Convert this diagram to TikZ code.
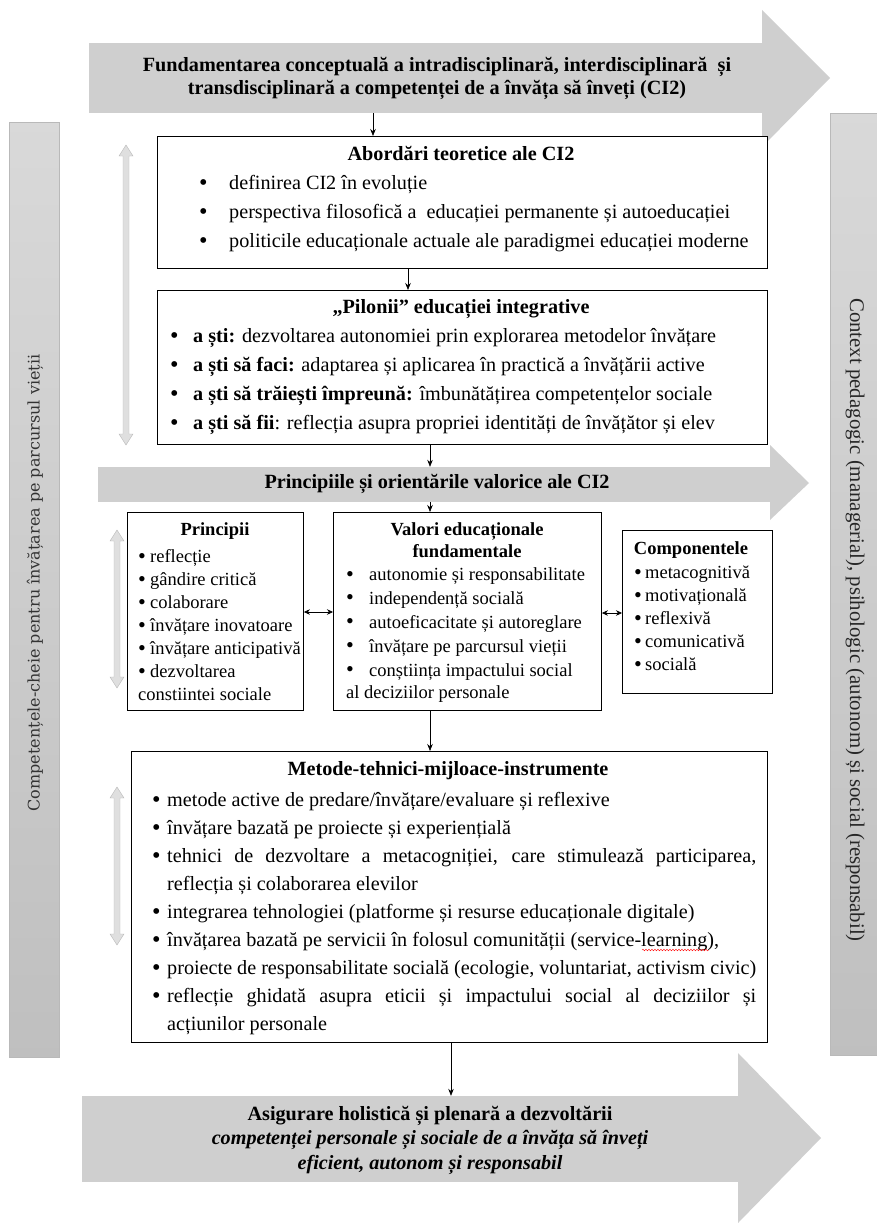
\documentclass[tikz,border=0pt]{standalone}
\usepackage{fontspec}
\setmainfont{Liberation Serif}
\newfontfamily\sidefont{DejaVu Serif}
\usetikzlibrary{arrows.meta,decorations.pathmorphing}

\newcommand{\bl}[1]{\rule{0pt}{19pt}\makebox[#1][l]{\raisebox{-0.8pt}{\scalebox{1.2}{\textbullet}}}}
\newcommand{\mitem}[1]{\noindent\hangindent=15pt\hangafter=1\bl{15pt}#1\par}

\tikzset{
  box/.style={draw, line width=0.9pt, fill=white, anchor=north west, inner sep=0pt},
  txt/.style={inner sep=0pt, anchor=north west, align=left, font=\fontsize{20.2}{29}\selectfont},
  small/.style={font=\fontsize{18.5}{23}\selectfont},
  ttl/.style={inner sep=0pt, anchor=base, font=\bfseries\fontsize{20.2}{23}\selectfont},
  bigarrow/.style={fill=gray!38, inner sep=0pt},
  sidebar/.style={draw=gray!55, top color=gray!30, bottom color=gray!50, anchor=north west, inner sep=0pt},
  conn/.style={-{Stealth[length=7pt, width=5.5pt]}, line width=0.6pt},
  dbl/.style={{Stealth[length=6pt, width=5.5pt]}-{Stealth[length=6pt, width=5.5pt]}, line width=0.6pt},
}

\begin{document}
\begin{tikzpicture}[x=1pt, y=-1pt]
  \useasboundingbox (0,0) rectangle (877,1223);

  % side bars
  \node[sidebar, minimum width=50, minimum height=935] (lbar) at (9,122) {};
  \node[sidebar, minimum width=52, minimum height=942] (rbar) at (830,113) {};
  \node[rotate=90, text=black!80, font=\sidefont\fontsize{16}{16}\selectfont] (ltxt) at (35,583)
    {Competențele-cheie pentru învățarea pe parcursul vieții};
  \node[rotate=-90, text=black!85, font=\fontsize{20.8}{21}\selectfont] (rtxt) at (855,620)
    {Context pedagogic (managerial), psihologic (autonom) și social (responsabil)};

  % gray double arrows
  \foreach \x/\ya/\yb in {126/145/445, 117/530/688, 117/787/945}
  {  \filldraw[fill=gray!25, draw=gray!55] (\x-3,\ya+11) -- (\x-7,\ya+11) -- (\x,\ya) -- (\x+7,\ya+11) -- (\x+3,\ya+11)
       -- (\x+3,\yb-11) -- (\x+7,\yb-11) -- (\x,\yb) -- (\x-7,\yb-11) -- (\x-3,\yb-11) -- cycle;}

  % big arrows
  \node[bigarrow, minimum width=674, minimum height=70] (fund) at (426,78) {};
  \fill[gray!38] (762,10) -- (830,78) -- (762,147) -- cycle;
  \node[align=center, inner sep=0pt, font=\bfseries\fontsize{20.2}{23}\selectfont] (fundt) at (437,78)
    {Fundamentarea conceptuală a intradisciplinară, interdisciplinară \ și\\
     transdisciplinară a competenței de a învăța să înveți (CI2)};

  \node[bigarrow, minimum width=673, minimum height=35] (orient) at (434.5,484.5) {};
  \fill[gray!38] (770,445) -- (809,483) -- (770,520) -- cycle;
  \node[inner sep=0pt, font=\bfseries\fontsize{20.2}{23}\selectfont] (orientt) at (437,484)
    {Principiile și orientările valorice ale CI2};

  \node[bigarrow, minimum width=657, minimum height=86] (final) at (410.5,1139) {};
  \fill[gray!38] (738,1053) -- (821,1138) -- (738,1223) -- cycle;
  \node[align=center, inner sep=0pt, font=\fontsize{20.2}{24.5}\selectfont] (finalt) at (430,1140)
    {\textbf{Asigurare holistică și plenară a dezvoltării}\\
     \textbf{\textit{competenței personale și sociale de a învăța să înveți}}\\
     \textbf{\textit{eficient, autonom și responsabil}}};

  % boxes
  \node[box, minimum width=610, minimum height=132] (abord) at (157,136) {};
  \node[ttl] (abordt) at (461,160) {Abordări teoretice ale CI2};
  \node[txt] (abordl) at (199,170)
    {\bl{30pt}definirea CI2 în evoluție\\
     \bl{30pt}perspectiva filosofică a \ educației permanente și autoeducației\\
     \bl{30pt}politicile educaționale actuale ale paradigmei educației moderne};

  \node[box, minimum width=610, minimum height=154] (pilon) at (157,290) {};
  \node[ttl] (pilont) at (461,313) {„Pilonii” educației integrative};
  \node[txt] (pilonl) at (170,323)
    {\bl{23pt}\textbf{a ști:} dezvoltarea autonomiei prin explorarea metodelor învățare\\
     \bl{23pt}\textbf{a ști să faci:} adaptarea și aplicarea în practică a învățării active\\
     \bl{23pt}\textbf{a ști să trăiești împreună:} îmbunătățirea competențelor sociale\\
     \bl{23pt}\textbf{a ști să fii}: reflecția asupra propriei identități de învățător și elev};

  \node[box, minimum width=176, minimum height=198] (princ) at (127,512) {};
  \node[ttl, font=\bfseries\fontsize{18.5}{23}\selectfont] (princt) at (215,535) {Principii};
  \node[txt, small] (princl) at (138,543)
    {\bl{12pt}reflecție\\ \bl{12pt}gândire critică\\ \bl{12pt}colaborare\\
     \bl{12pt}învățare inovatoare\\ \bl{12pt}învățare anticipativă\\
     \bl{12pt}dezvoltarea\\ constiintei sociale};

  \node[box, minimum width=268, minimum height=198] (valori) at (333,512) {};
  \node[inner sep=0pt, anchor=north, align=center, font=\bfseries\fontsize{18.5}{22}\selectfont] (valorit) at (467,516)
    {\rule{0pt}{19pt}Valori educaționale\\ fundamentale};
  \node[txt, font=\fontsize{18.5}{22.5}\selectfont] (valoril) at (346,561)
    {\bl{23pt}autonomie și responsabilitate\\ \bl{23pt}independență socială\\
     \bl{23pt}autoeficacitate și autoreglare\\ \bl{23pt}învățare pe parcursul vieții\\
     \bl{23pt}conștiința impactului social\\ al deciziilor personale};

  \node[box, minimum width=150, minimum height=163] (comp) at (622,530) {};
  \node[ttl, font=\bfseries\fontsize{18.5}{23}\selectfont] (compt) at (691,554) {Componentele};
  \node[txt, small] (compl) at (634,559)
    {\bl{11pt}metacognitivă\\ \bl{11pt}motivațională\\ \bl{11pt}reflexivă\\
     \bl{11pt}comunicativă\\ \bl{11pt}socială};

  \node[box, minimum width=636, minimum height=291] (metode) at (131,751) {};
  \node[ttl] (metodet) at (448,775) {Metode-tehnici-mijloace-instrumente};
  \node[txt, text width=604, align=justify, font=\fontsize{20.2}{28}\selectfont] (metodel) at (152,787)
    {\mitem{metode active de predare/învățare/evaluare și reflexive}
     \mitem{învățare bazată pe proiecte și experiențială}
     \mitem{tehnici de dezvoltare a metacogniției, care stimulează participarea,\linebreak reflecția și colaborarea elevilor}
     \mitem{integrarea tehnologiei (platforme și resurse educaționale digitale)}
     \mitem{învățarea bazată pe servicii în folosul comunității (service-learning),}
     \mitem{proiecte de responsabilitate socială (ecologie, voluntariat, activism civic)}
     \mitem{reflecție ghidată asupra eticii și impactului social al deciziilor și\linebreak acțiunilor personale}};
  \draw[red, decorate, decoration={snake, amplitude=0.8pt, segment length=3pt}] (642,950) -- (709,950);

  % connectors
  \coordinate (c1) at (373,0);
  \coordinate (c2) at (408,0);
  \coordinate (c3) at (430,0);
  \coordinate (c4) at (451,0);
  \def\list {fund/abord/c1, abord/pilon/c2, pilon/orient/c3, orient/valori/c3, valori/metode/c3, metode/final/c4}  % vertical links
  \foreach \u/\v/\c in \list
  {  \draw[conn] (\u.south -| \c) -- (\v.north -| \c);}

  \coordinate (d1) at (0,612);
  \coordinate (d2) at (0,613);
  \draw[dbl] (princ.east |- d1) -- (valori.west |- d1);
  \draw[dbl] (valori.east |- d2) -- (comp.west |- d2);
\end{tikzpicture}
\end{document}
